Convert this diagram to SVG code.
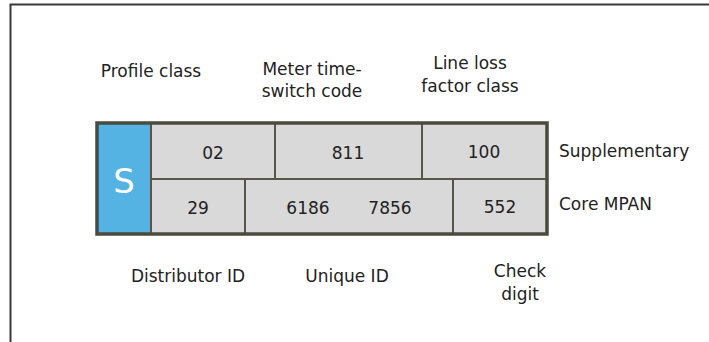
<svg xmlns="http://www.w3.org/2000/svg" width="709" height="342" viewBox="0 0 709 342">
<style>
text{font-family:"DejaVu Sans","Liberation Sans",sans-serif;font-size:17px;fill:#222}
.c{fill:#d9d9d9;stroke:#56564a;stroke-width:2}
.m{text-anchor:middle}
</style>
<rect x="0" y="0" width="709" height="342" fill="#fff"/>
<rect x="10.5" y="4.5" width="740" height="400" fill="none" stroke="#3a3a3a" stroke-width="2"/>
<g id="labels-top">
<text id="profile-class" x="151" y="77" class="m">Profile class</text>
<text id="meter-code" class="m"><tspan x="312" y="75">Meter time-</tspan><tspan x="312" y="97">switch code</tspan></text>
<text id="llf-class" class="m"><tspan x="470" y="69">Line loss</tspan><tspan x="470" y="92">factor class</tspan></text>
</g>
<g id="grid">
<g id="cell-s"><rect x="97" y="123" width="54" height="111" fill="#55b3e3" stroke="#56564a" stroke-width="2"/><text x="124" y="193" class="m" style="font-size:34px;fill:#fff">S</text></g>
<g id="cell-02"><rect class="c" x="151" y="123" width="124" height="56"/><text x="213" y="159" class="m">02</text></g>
<g id="cell-811"><rect class="c" x="275" y="123" width="147" height="56"/><text x="348" y="159" class="m">811</text></g>
<g id="cell-100"><rect class="c" x="422" y="123" width="125" height="56"/><text x="484" y="158" class="m">100</text></g>
<g id="cell-29"><rect class="c" x="151" y="179" width="94" height="55"/><text x="198" y="214" class="m">29</text></g>
<g id="cell-unique"><rect class="c" x="245" y="179" width="208" height="55"/><text x="308" y="214" class="m">6186</text><text x="390" y="214" class="m">7856</text></g>
<g id="cell-552"><rect class="c" x="453" y="179" width="94" height="55"/><text x="500" y="213" class="m">552</text></g>
<rect x="97" y="123" width="450" height="111" fill="none" stroke="#4a4a3e" stroke-width="3.5"/>
</g>
<g id="labels-side">
<text id="supplementary" x="559" y="157">Supplementary</text>
<text id="core-mpan" x="559" y="210">Core MPAN</text>
</g>
<g id="labels-bottom">
<text id="distributor-id" x="188" y="282" class="m">Distributor ID</text>
<text id="unique-id" x="347" y="282" class="m">Unique ID</text>
<text id="check-digit" class="m"><tspan x="520" y="277">Check</tspan><tspan x="520" y="300">digit</tspan></text>
</g>
<g id="connectors"/>
</svg>
